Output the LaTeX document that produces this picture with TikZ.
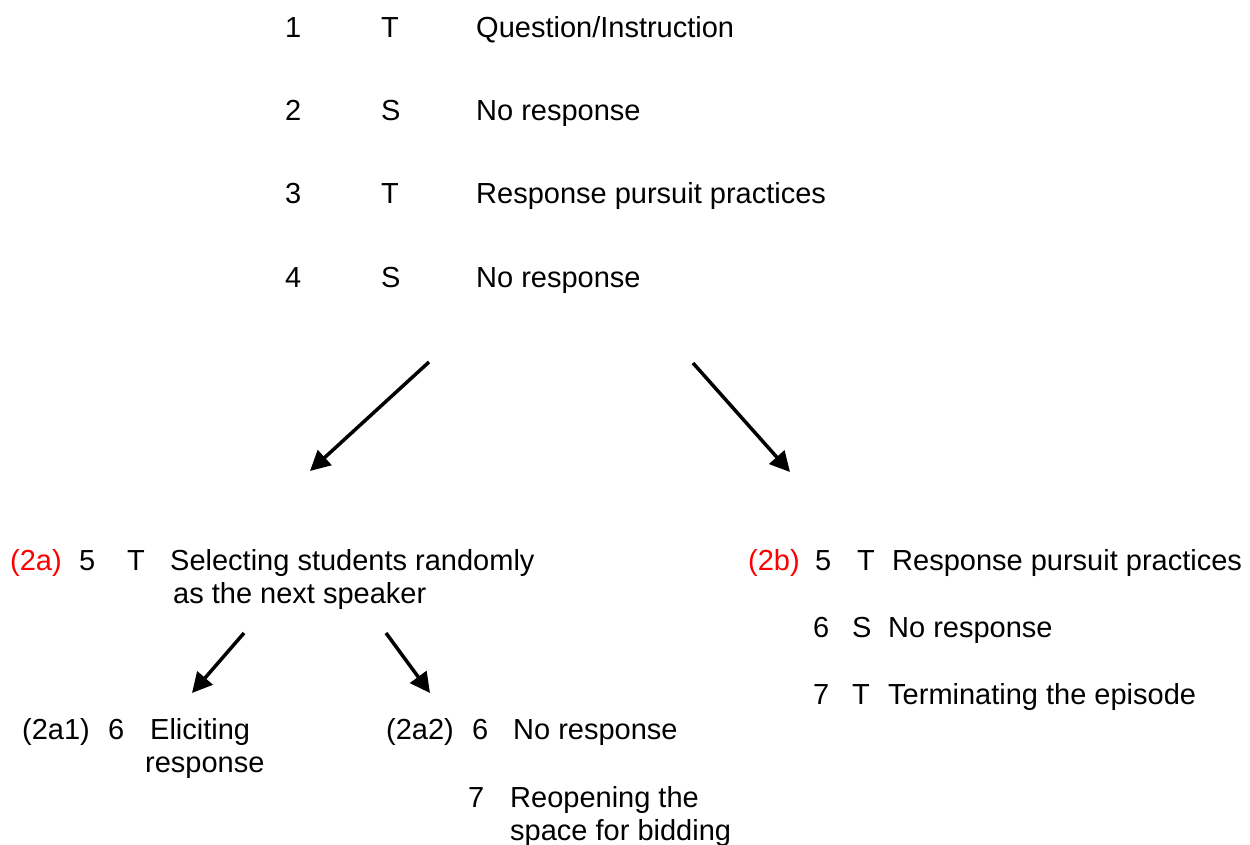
\documentclass[tikz,border=0pt]{standalone}
\usepackage{fontspec}
\setmainfont{Liberation Sans}
\usetikzlibrary{arrows.meta}

\begin{document}
\begin{tikzpicture}[x=1pt,y=-1pt,
    txt/.style={anchor=base west, inner sep=0pt, font=\fontsize{29}{35}\selectfont},
    tag/.style={txt, text=red},
    arr/.style={line width=3.5pt, -{Triangle[length=20pt,width=20pt]}}]
    \useasboundingbox (0,0) rectangle (1250,845);
    \def \gap {83.3} % distance between the first four turns
    % opening sequence
    \foreach \n/\who/\what [count=\i] in {1/T/{Question/Instruction}, 2/S/{No response},
        3/T/{Response pursuit practices}, 4/S/{No response}}
    {
      \node[txt] (num\i) at (285, {37.4 + \gap*(\i-1)}) {\n};
      \node[txt] (who\i) at (381, {37.4 + \gap*(\i-1)}) {\who};
      \node[txt] (what\i) at (476, {37.4 + \gap*(\i-1)}) {\what};
    }
    % branch 2a
    \node[tag] (tagA) at (10,570.4) {(2a)};
    \node[txt] (numA) at (79,570.4) {5};
    \node[txt] (whoA) at (127,570.4) {T};
    \node[txt] (whatA) at (170,570.4) {Selecting students randomly};
    \node[txt] (whatAb) at (173,603.4) {as the next speaker};
    % branch 2a1
    \node[txt] (tagAa) at (22,739.4) {(2a1)};
    \node[txt] (numAa) at (108,739.4) {6};
    \node[txt] (whatAa) at (150,739.4) {Eliciting};
    \node[txt] (whatAab) at (145,772.4) {response};
    % branch 2a2
    \node[txt] (tagAb) at (386,739.4) {(2a2)};
    \node[txt] (numAb) at (472,739.4) {6};
    \node[txt] (whatAb1) at (513,739.4) {No response};
    \node[txt] (numAc) at (468,807.4) {7};
    \node[txt] (whatAc) at (510,807.4) {Reopening the};
    \node[txt] (whatAcb) at (510,840.4) {space for bidding};
    % branch 2b
    \node[tag] (tagB) at (748,570.4) {(2b)};
    \foreach \n/\who/\what/\x [count=\i] in {5/T/{Response pursuit practices}/0,
        6/S/{No response}/-2, 7/T/{Terminating the episode}/-2}
    {
      \node[txt] (numB\i) at ({815+\x}, {570.4 + 67*(\i-1)}) {\n};
      \node[txt] (whoB\i) at ({857-5*(\i>1)}, {570.4 + 67*(\i-1)}) {\who};
      \node[txt] (whatB\i) at ({892-4*(\i>1)}, {570.4 + 67*(\i-1)}) {\what};
    }
    % arrows
    \coordinate (splitL) at (429,362);
    \coordinate (splitR) at (693,363);
    \coordinate (endL) at (310,471);
    \coordinate (endR) at (790,472);
    \coordinate (subL) at (244,633);
    \coordinate (subR) at (386,633);
    \coordinate (subLend) at (192,693);
    \coordinate (subRend) at (430,693);
    \draw[arr] (splitL) -- (endL);
    \draw[arr] (splitR) -- (endR);
    \draw[arr] (subL) -- (subLend);
    \draw[arr] (subR) -- (subRend);
\end{tikzpicture}
\end{document}
